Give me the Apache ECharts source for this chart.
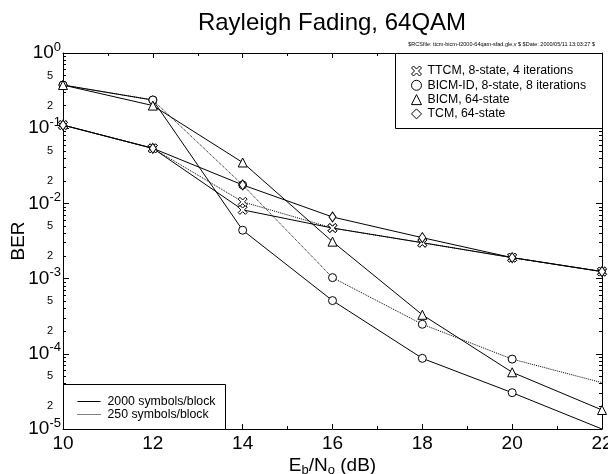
<!DOCTYPE html>
<html>
<head>
<meta charset="utf-8">
<script src="https://cdn.jsdelivr.net/npm/echarts@6/dist/echarts.min.js"></script>
<style>
html,body{margin:0;padding:0;background:#fff;}
#chart{width:608px;height:474px;}
</style>
</head>
<body>
<div id="chart"></div>
<script>
// ---- data ----
const ebno = [10, 12, 14, 16, 18, 20, 22];
const ttcm2000 = [0.11, 0.054, 0.0082, 0.0047, 0.0030, 0.0019, 0.00124];
const ttcm250 = [0.11, 0.054, 0.0105, 0.0047, 0.0030, 0.0019, 0.00124];
const bicmid2000 = [0.375, 0.237, 0.0044, 0.00051, 0.000087, 0.0000304, 0.00001];
const bicmid250 = [0.375, 0.237, 0.0176, 0.00103, 0.000247, 0.000085, 0.0000413];
const bicm = [0.375, 0.20, 0.035, 0.0031, 0.00033, 0.0000568, 0.0000179];
const tcm = [0.11, 0.054, 0.0176, 0.0066, 0.0035, 0.0019, 0.00124];

const xTicks = [10, 12, 14, 16, 18, 20, 22];
const yMajorTicks = [1e-5, 1e-4, 1e-3, 1e-2, 1e-1, 1];
const yLabelValues = [1e-5, 2e-5, 5e-5, 1e-4, 2e-4, 5e-4, 1e-3, 2e-3, 5e-3, 1e-2, 2e-2, 5e-2, 1e-1, 2e-1, 5e-1, 1];
const minorMultipliers = [2, 3, 4, 5, 6, 7, 8, 9];

const names = {
  ttcm: 'TTCM, 8-state, 4 iterations',
  bicmid: 'BICM-ID, 8-state, 8 iterations',
  bicm: 'BICM, 64-state',
  tcm: 'TCM, 64-state',
  s2000: '2000 symbols/block',
  s250: '250 symbols/block'
};

const yMinorTicks = [];
yMajorTicks.slice(0, -1).forEach(d => minorMultipliers.forEach(m => yMinorTicks.push(+(d * m).toPrecision(3))));

const xPath = 'path://M0,2L2,0L5,3L8,0L10,2L7,5L10,8L8,10L5,7L2,10L0,8L3,5Z';
const FONT = 'Liberation Sans';

function pairs(ys, hideLast) {
  return ebno.map((x, i) => {
    const item = { value: [x, ys[i]] };
    if (hideLast && i === ebno.length - 1) item.symbol = 'none';
    return item;
  });
}

const markerStyle = { color: '#fff', borderColor: '#000', borderWidth: 1 };

function mkSeries(name, ys, symbol, size, dotted, hideLast) {
  return {
    type: 'line', name: name, data: pairs(ys, hideLast),
    symbol: symbol, symbolSize: size, showAllSymbol: true,
    lineStyle: { color: '#000', width: 1, type: dotted ? 'dotted' : 'solid' },
    itemStyle: markerStyle,
    emphasis: { disabled: true }, z: 3
  };
}

const series = [
  mkSeries(names.ttcm, ttcm2000, xPath, 9, false),
  mkSeries(names.ttcm, ttcm250, xPath, 9, true),
  mkSeries(names.bicmid, bicmid2000, 'circle', 8, false, true),
  mkSeries(names.bicmid, bicmid250, 'circle', 8, true, true),
  mkSeries(names.bicm, bicm, 'triangle', 9, false),
  mkSeries(names.tcm, tcm, 'diamond', [7, 10], false),
  { type: 'line', name: names.s2000, data: [], symbol: 'none', lineStyle: { color: '#000', width: 1, type: 'solid' }, itemStyle: { color: '#000' } },
  { type: 'line', name: names.s250, data: [], symbol: 'none', lineStyle: { color: '#000', width: 1, type: 'dotted' }, itemStyle: { color: '#000' } }
];

function yLabel(v) {
  const e = Math.floor(Math.log10(v) + 1e-9);
  const m = Math.round(v / Math.pow(10, e));
  if (m === 1) return '{b|10}{s|' + e + '}';
  return '{m|' + m + '}';
}

const logAxisBase = { type: 'log', logBase: 10, min: 1e-5, max: 1, splitLine: { show: false } };

const option = {
  animation: false,
  backgroundColor: '#fff',
  grid: { left: 63, right: 6, top: 53, bottom: 45, containLabel: false, outerBoundsMode: 'none' },
  xAxis: [
    {
      type: 'value', min: 10, max: 22, interval: 2, position: 'bottom',
      axisLine: { lineStyle: { color: '#000', width: 1 } },
      axisTick: { inside: true, length: 5, lineStyle: { color: '#000' } },
      minorTick: { show: true, splitNumber: 2, length: 3, lineStyle: { color: '#000' } },
      splitLine: { show: false },
      axisLabel: { color: '#000', fontSize: 19, fontFamily: FONT, margin: 5,
        customValues: xTicks, formatter: v => String(v) },
      name: '{n|E}{s|b}{n|/N}{s|o}{n| (dB)}', nameLocation: 'middle', nameGap: 26,
      nameMoveOverlap: false,
      nameTextStyle: { rich: {
        n: { fontSize: 19, fontFamily: FONT, color: '#000' },
        s: { fontSize: 13, fontFamily: FONT, color: '#000', padding: [9, 0, 0, 0] }
      } }
    },
    {
      type: 'value', min: 10, max: 22, interval: 2, position: 'top',
      axisLine: { lineStyle: { color: '#000', width: 1 } },
      axisTick: { inside: true, length: 5, lineStyle: { color: '#000' } },
      minorTick: { show: true, splitNumber: 2, length: 3, lineStyle: { color: '#000' } },
      splitLine: { show: false }, axisLabel: { show: false }
    }
  ],
  yAxis: [
    Object.assign({}, logAxisBase, {
      position: 'left',
      axisLine: { show: true, lineStyle: { color: '#000', width: 1 } },
      axisTick: { show: true, inside: true, length: 6, customValues: yMajorTicks, lineStyle: { color: '#000' } },
      axisLabel: {
        customValues: yLabelValues, formatter: yLabel, margin: 2, color: '#000',
        rich: {
          b: { fontSize: 19, fontFamily: FONT, color: '#000' },
          s: { fontSize: 13, fontFamily: FONT, color: '#000', padding: [0, 0, 12, 0] },
          m: { fontSize: 11, fontFamily: FONT, color: '#000', padding: [0, 8, 0, 0] }
        }
      },
      name: 'BER', nameLocation: 'middle', nameGap: 35, nameRotate: 90,
      nameMoveOverlap: false,
      nameTextStyle: { fontSize: 19, fontFamily: FONT, color: '#000' }
    }),
    Object.assign({}, logAxisBase, {
      position: 'left',
      axisLine: { show: false },
      axisTick: { show: true, inside: true, length: 3, customValues: yMinorTicks, lineStyle: { color: '#000' } },
      axisLabel: { show: false }
    }),
    Object.assign({}, logAxisBase, {
      position: 'right',
      axisLine: { show: true, lineStyle: { color: '#000', width: 1 } },
      axisTick: { show: true, inside: true, length: 6, customValues: yMajorTicks, lineStyle: { color: '#000' } },
      axisLabel: { show: false }
    }),
    Object.assign({}, logAxisBase, {
      position: 'right',
      axisLine: { show: false },
      axisTick: { show: true, inside: true, length: 3, customValues: yMinorTicks, lineStyle: { color: '#000' } },
      axisLabel: { show: false }
    })
  ],
  legend: [
    {
      orient: 'vertical', left: 406, top: 60, itemWidth: 10, itemHeight: 10, itemGap: 2.3,
      selectedMode: false, z: 6,
      textStyle: { fontSize: 12.3, fontFamily: FONT, color: '#000', padding: [0, 0, 0, 1] },
      itemStyle: { color: '#fff', borderColor: '#000', borderWidth: 1 },
      data: [
        { name: names.ttcm, icon: xPath },
        { name: names.bicmid, icon: 'circle' },
        { name: names.bicm, icon: 'triangle' },
        { name: names.tcm, icon: 'diamond' }
      ]
    },
    {
      orient: 'vertical', left: 72, top: 390.5, itemWidth: 23, itemHeight: 10, itemGap: 1,
      selectedMode: false, z: 6,
      textStyle: { fontSize: 12.3, fontFamily: FONT, color: '#000', padding: [0, 0, 0, 2] },
      itemStyle: { opacity: 0 },
      lineStyle: { width: 1 },
      data: [names.s2000, names.s250]
    }
  ],
  graphic: [
    { type: 'text', x: 332, y: 23, z: 10,
      style: { text: 'Rayleigh Fading, 64QAM', font: '24px "Liberation Sans"', fill: '#000', align: 'center', verticalAlign: 'middle' } },
    { type: 'text', x: 595, y: 44, z: 10,
      style: { text: '$RCSfile: ttcm-bicm-f2000-64qam-sfad.gle,v $ $Date: 2000/05/11 13:03:27 $', font: '5.5px "Liberation Sans"', fill: '#000', align: 'right', verticalAlign: 'middle' } },
    { type: 'rect', z: 5, shape: { x: 395.5, y: 53.5, width: 207, height: 75 },
      style: { fill: '#fff', stroke: '#000', lineWidth: 1 } },
    { type: 'rect', z: 5, shape: { x: 63.5, y: 384.5, width: 162, height: 45 },
      style: { fill: '#fff', stroke: '#000', lineWidth: 1 } }
  ],
  series: series
};

const chart = echarts.init(document.getElementById('chart'), null, { renderer: 'canvas' });
chart.setOption(option);
</script>
</body>
</html>
